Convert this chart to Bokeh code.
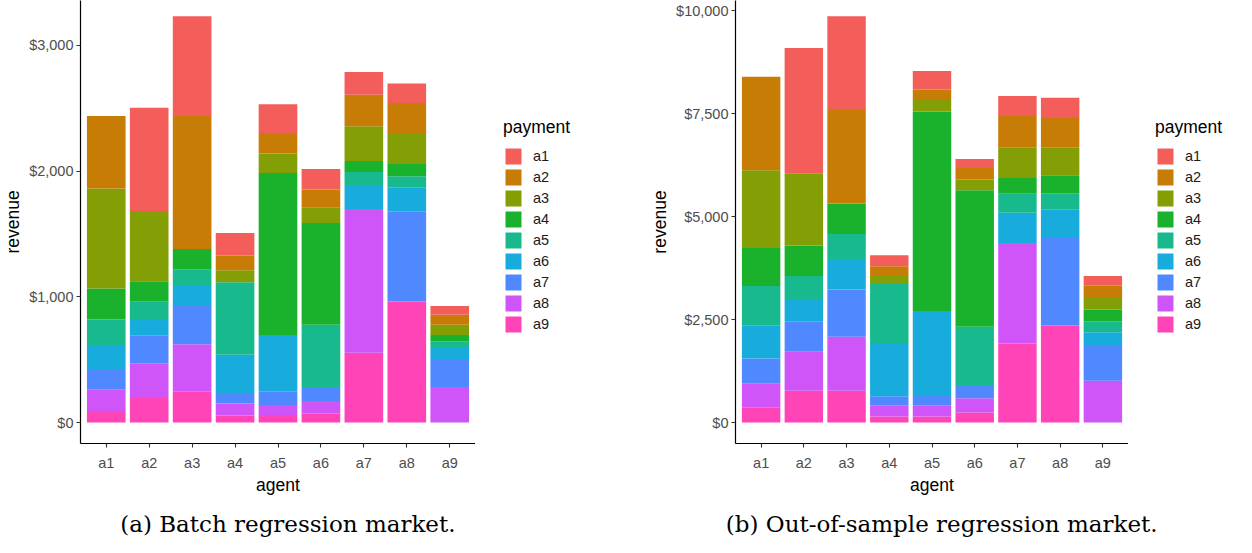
from bokeh.plotting import figure
from bokeh.models import (ColumnDataSource, FactorRange, Range1d, FixedTicker,
                          NumeralTickFormatter, Legend, LegendItem)
from bokeh.layouts import row, column
from bokeh.core.properties import value
from bokeh.embed import file_html
from bokeh.resources import INLINE

agents = ["a1", "a2", "a3", "a4", "a5", "a6", "a7", "a8", "a9"]
payments = ["a1", "a2", "a3", "a4", "a5", "a6", "a7", "a8", "a9"]

# (a) Batch regression market: revenue of each agent (x) paid by each payment source
batch_a1 = [0, 820, 793, 180, 230, 162, 182, 156, 69]
batch_a2 = [575, 0, 1056, 116, 162, 142, 249, 238, 79]
batch_a3 = [796, 559, 0, 96, 156, 125, 278, 246, 82]
batch_a4 = [246, 164, 161, 0, 1288, 809, 87, 98, 50]
batch_a5 = [204, 145, 127, 576, 0, 495, 103, 90, 45]
batch_a6 = [198, 125, 167, 305, 450, 0, 191, 191, 104]
batch_a7 = [153, 219, 304, 84, 106, 111, 0, 714, 214]
batch_a8 = [172, 275, 376, 95, 79, 101, 1142, 0, 283]
batch_a9 = [93, 196, 246, 56, 61, 71, 556, 963, 0]

# (b) Out-of-sample regression market
oos_a1 = [0, 3043, 2252, 267, 452, 218, 485, 492, 234]
oos_a2 = [2268, 0, 2292, 209, 258, 282, 766, 718, 274]
oos_a3 = [1889, 1751, 0, 218, 275, 258, 735, 670, 307]
oos_a4 = [920, 743, 743, 0, 4842, 3318, 387, 436, 282]
oos_a5 = [968, 557, 605, 1461, 0, 1412, 460, 404, 267]
oos_a6 = [791, 556, 743, 1267, 2042, 0, 735, 661, 314]
oos_a7 = [606, 727, 1146, 218, 250, 323, 0, 2147, 864]
oos_a8 = [581, 944, 1307, 275, 275, 347, 2437, 0, 1017]
oos_a9 = [371, 775, 775, 145, 145, 242, 1921, 2357, 0]

batch_ticks = [0, 1000, 2000, 3000]
oos_ticks = [0, 2500, 5000, 7500, 10000]

captions = ["(a) Batch regression market.", "(b) Out-of-sample regression market."]

colors = ["#F35E5A", "#C77C05", "#849E05", "#1AB12C", "#19B98E",
          "#17ACDC", "#5088FF", "#D055F8", "#FF44B8"]

SANS = "Liberation Sans"
MAIN_H = 497
CAP_H = 40


def make(series, yticks, border_left, frame_w):
    data = {"agent": agents}
    for name, vals in zip(payments, series):
        data[name] = vals
    src = ColumnDataSource(data)
    ymax = max(sum(v) for v in zip(*series))
    p = figure(x_range=FactorRange(*agents, range_padding=0.1,
                                   range_padding_units="absolute"),
               y_range=Range1d(-0.0515 * ymax, 1.039 * ymax),
               width=border_left + frame_w, height=MAIN_H,
               output_backend="svg", toolbar_location=None,
               min_border_left=border_left, min_border_right=0,
               min_border_top=0, min_border_bottom=MAIN_H - 444)
    order = payments[::-1]
    cols = colors[::-1]
    p.vbar_stack(order, x="agent", width=0.9, source=src,
                 fill_color=cols, line_color=None)

    p.xgrid.visible = False
    p.ygrid.visible = False
    p.outline_line_color = None

    for ax in (p.xaxis[0], p.yaxis[0]):
        ax.axis_line_color = "black"
        ax.axis_line_width = 1.2
        ax.major_tick_line_color = "#333333"
        ax.major_tick_line_width = 1.1
        ax.major_tick_in = 0
        ax.major_tick_out = 4
        ax.minor_tick_line_color = None
        ax.major_label_text_font = SANS
        ax.major_label_text_font_size = "14.5px"
        ax.major_label_text_color = "#4D4D4D"
        ax.axis_label_text_font = SANS
        ax.axis_label_text_font_size = "17.5px"
        ax.axis_label_text_font_style = "normal"
        ax.axis_label_text_color = "black"
        ax.major_label_standoff = 3

    p.xaxis.axis_label = "agent"
    p.xaxis.major_label_standoff = 7
    p.xaxis.axis_label_standoff = 1
    p.yaxis.axis_label = "revenue"
    p.yaxis.axis_label_standoff = 3
    p.yaxis.ticker = FixedTicker(ticks=yticks)
    p.yaxis.formatter = NumeralTickFormatter(format="$0,0")
    return p


def make_legend(width, key_x, bottom):
    lp = figure(width=width, height=MAIN_H, output_backend="svg",
                toolbar_location=None, x_axis_type=None, y_axis_type=None,
                x_range=Range1d(0, 1), y_range=Range1d(0, 1),
                min_border_left=0, min_border_top=0,
                min_border_right=0, min_border_bottom=MAIN_H - 444)
    lp.outline_line_color = None
    lp.xgrid.visible = False
    lp.ygrid.visible = False
    items = []
    for name, c in zip(payments, colors):
        # zero-size helper glyph: only supplies the legend key colour
        r = lp.vbar(x=[0.5], top=[0], bottom=[0], width=0,
                    fill_color=c, line_color=None)
        items.append(LegendItem(label=name, renderers=[r]))
    legend = Legend(items=items, title="payment", location=(key_x, bottom),
                    margin=0, padding=0, spacing=1,
                    glyph_width=20, glyph_height=20, label_height=20,
                    label_standoff=10, label_text_font=SANS,
                    label_text_font_size="14.5px", label_text_color="#1a1a1a",
                    title_text_font=SANS, title_text_font_size="17.5px",
                    title_text_font_style="normal", title_text_color="black",
                    title_standoff=8, border_line_color=None,
                    background_fill_alpha=0)
    lp.add_layout(legend, "center")
    return lp


def make_caption(text, cx):
    c = figure(width=618, height=CAP_H, output_backend="svg",
               toolbar_location=None, x_axis_type=None, y_axis_type=None,
               x_range=Range1d(0, 1), y_range=Range1d(0, 1), min_border=0)
    c.outline_line_color = None
    c.xgrid.visible = False
    c.ygrid.visible = False
    c.text(x=[cx], y=[0.33], text=[text], text_align="center",
           text_baseline="middle", text_font=value("DejaVu Serif"),
           text_font_size=value("23px"), text_color="black")
    return c


p1 = make([batch_a1, batch_a2, batch_a3, batch_a4, batch_a5, batch_a6,
           batch_a7, batch_a8, batch_a9], batch_ticks, 72, 403)
l1 = make_legend(143, 28, 109)
p2 = make([oos_a1, oos_a2, oos_a3, oos_a4, oos_a5, oos_a6,
           oos_a7, oos_a8, oos_a9], oos_ticks, 117, 393)
l2 = make_legend(108, 27, 109)
c1 = make_caption(captions[0], 0.465)
c2 = make_caption(captions[1], 0.523)

layout = column(row(p1, l1, p2, l2), row(c1, c2))
open("out.html", "w").write(file_html(layout, INLINE))
